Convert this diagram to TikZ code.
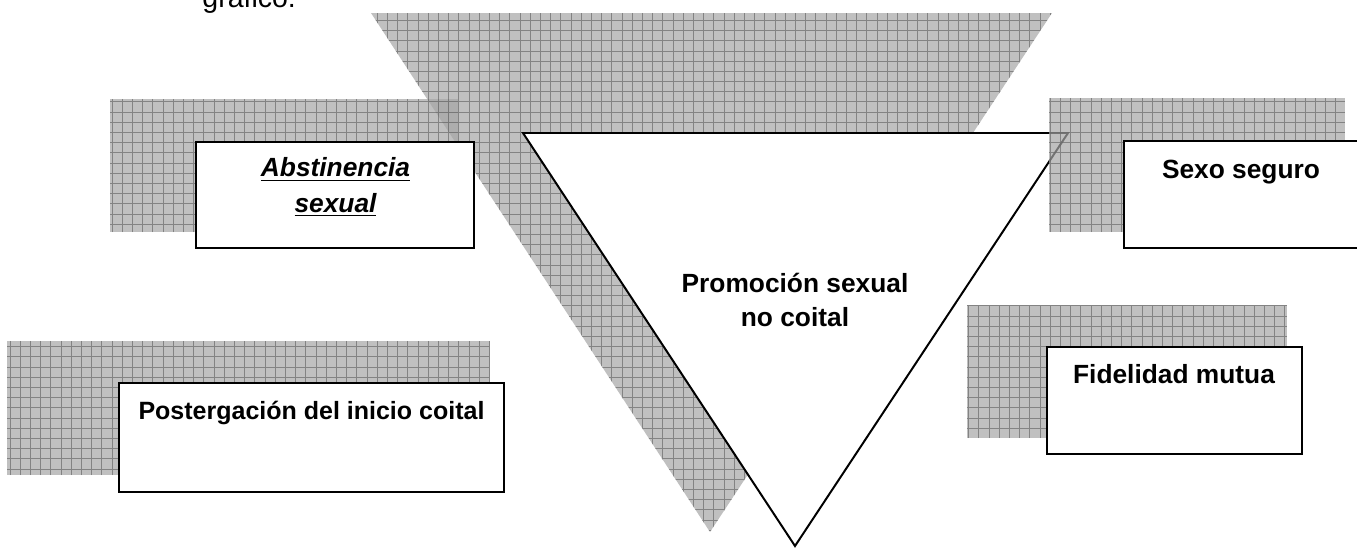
\documentclass[tikz,border=0pt]{standalone}
\usepackage{fontspec}
\setmainfont{Liberation Sans}
\usetikzlibrary{fit,positioning}

\definecolor{shadegray}{HTML}{A5A5A5}
\definecolor{gridgray}{HTML}{6A6A6A}

\begin{document}
\begin{tikzpicture}[x=0.456pt,y=-0.456pt,
    gridshadow/.style={fill=shadegray,fill opacity=0.7,
      path picture={\draw[gridgray,draw opacity=0.7,line width=0.45pt,step=4.65pt]
        (path picture bounding box.south west) grid (path picture bounding box.north east);}},
    box/.style={draw,fill=white,line width=0.9pt,inner sep=0pt},
    lbl/.style={font=\fontsize{12}{15.5}\selectfont\bfseries,align=center,anchor=base,inner sep=0pt}]
    \useasboundingbox (0,0) rectangle (1357,547);
    \node[font=\fontsize{13}{15}\selectfont,anchor=base west,inner sep=0pt] (t_graf) at (202,7) {gráfico.};
    % big shadow and left box
    \path[gridshadow] (371,13) -- (1052,13) -- (710,532) -- cycle;
    \path[gridshadow] (110,99) rectangle (458,232);
    \node[box,fit={(196,142) (474,248)}] (b_abs) {};
    \node[lbl,font=\fontsize{12}{16}\selectfont\bfseries\itshape] (t_abs) at (335.5,212)
      {\underline{Abstinencia}\\\underline{sexual}};
    % centre triangle
    \draw[line width=0.9pt,fill=white] (523,133) -- (1068,133) -- (795,546) -- cycle;
    \node[lbl] (t_prom) at (795,326) {Promoción sexual\\no coital};
    % right boxes
    \path[gridshadow] (1049,98) rectangle (1345,232);
    \node[box,fit={(1124,141) (1372,248)}] (b_sex) {};
    \node[lbl] (t_sex) at (1241,178) {Sexo seguro};
    \path[gridshadow] (967,305) rectangle (1287,438);
    \node[box,fit={(1047,347) (1302,454)}] (b_fid) {};
    \node[lbl] (t_fid) at (1174,383) {Fidelidad mutua};
    % bottom left box
    \path[gridshadow] (7,341) rectangle (490,475);
    \node[box,fit={(119,383) (504,492)}] (b_pos) {};
    \node[lbl,font=\fontsize{11.4}{14}\selectfont\bfseries] (t_pos) at (311.5,419)
      {Postergación del inicio coital};
\end{tikzpicture}
\end{document}
